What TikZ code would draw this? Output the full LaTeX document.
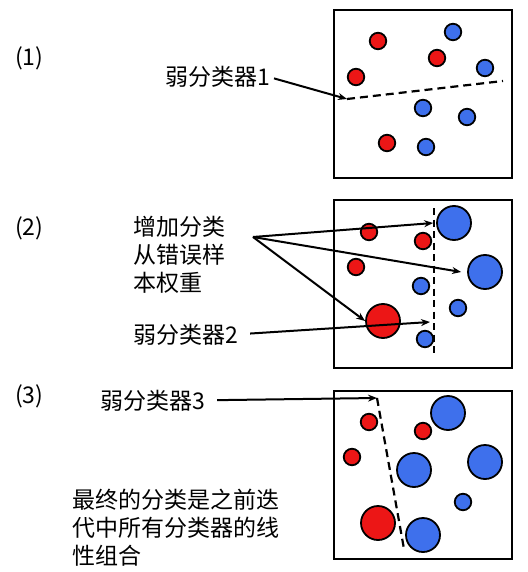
\documentclass[tikz,border=0pt]{standalone}
\usepackage{fontspec}
\setmainfont{Noto Sans CJK SC}
\usetikzlibrary{arrows.meta}
\definecolor{ptred}{RGB}{236,22,22}
\definecolor{ptblue}{RGB}{62,112,236}

\begin{document}
\begin{tikzpicture}[x=1pt, y=-1pt, >={Stealth[length=9pt,width=7pt]},
    txt/.style={anchor=base west, align=left, inner sep=0pt,
        font=\fontsize{23}{28}\selectfont},
    frame/.style={line width=2.4pt},
    rpt/.style={circle, draw, line width=1.8pt, fill=ptred, inner sep=0pt, minimum size=#1},
    bpt/.style={circle, draw, line width=1.8pt, fill=ptblue, inner sep=0pt, minimum size=#1},
    cut/.style={line width=2.2pt, dash pattern=on 8pt off 5pt},
    pointer/.style={->, line width=2pt, shorten <=12pt}]
    \useasboundingbox (0,0) rectangle (527,572);

    % (1)
    \node[txt] (n1) at (15,66) {(1)};
    \draw[frame] (334,10) rectangle (512,178);
    \node[rpt=16.5] (r11) at (378,41) {};
    \node[bpt=16.5] (b11) at (453,32) {};
    \node[rpt=16.5] (r12) at (437,58) {};
    \node[bpt=16.5] (b12) at (485,68) {};
    \node[rpt=16.5] (r13) at (356,77) {};
    \node[bpt=16.5] (b13) at (423,108) {};
    \node[bpt=16.5] (b14) at (467,117) {};
    \node[rpt=16.5] (r14) at (387,143) {};
    \node[bpt=16.5] (b15) at (426,147) {};
    \coordinate (tip1) at (347,99);
    \draw[cut] (tip1) -- (503,81);
    \node[txt] (weak1) at (165,86) {弱分类器1};
    \draw[pointer, shorten <=4pt] (weak1.east) -- (tip1);

    % (2)
    \node[txt] (n2) at (15,235) {(2)};
    \draw[frame] (334,200) rectangle (512,368);
    \node[rpt=16.5] (r21) at (369,232) {};
    \node[bpt=34] (b21) at (454,223) {};
    \node[rpt=16.5] (r22) at (423,241) {};
    \node[rpt=16.5] (r23) at (356,267) {};
    \node[bpt=34] (b22) at (485,272) {};
    \node[bpt=16.5] (b23) at (421,286) {};
    \node[bpt=16.5] (b24) at (458,308) {};
    \node[rpt=34] (r24) at (383,321) {};
    \node[bpt=16.5] (b25) at (425,339) {};
    \draw[cut, dash pattern=on 7pt off 4.5pt] (434,208) -- (434,353);
    % base of a multi-line node is its last line
    \node[txt] (boost) at (133,291) {增加分类\\从错误样\\本权重};
    \coordinate (fan) at (253,237);
    \draw[pointer, shorten <=0pt] (fan) -- ([xshift=-3pt]b21.west);
    \draw[pointer, shorten <=0pt] (fan) -- ([xshift=-6pt]b22.west);
    \draw[pointer, shorten <=0pt] (fan) -- (r24.west);
    \node[txt] (weak2) at (133,343) {弱分类器2};
    \coordinate (tip2) at (430,322);
    \draw[pointer] (weak2.east) -- (tip2);

    % (3)
    \node[txt] (n3) at (15,403) {(3)};
    \draw[frame] (334,391) rectangle (512,559);
    \node[rpt=16.5] (r31) at (369,422) {};
    \node[bpt=34] (b31) at (448,413) {};
    \node[rpt=16.5] (r32) at (423,431) {};
    \node[rpt=16.5] (r33) at (352,457) {};
    \node[bpt=34] (b32) at (414,470) {};
    \node[bpt=34] (b33) at (485,462) {};
    \node[bpt=16.5] (b34) at (463,502) {};
    \node[rpt=34] (r34) at (378,523) {};
    \node[bpt=34] (b35) at (423,535) {};
    \coordinate (tip3) at (377,398);
    \draw[cut] (tip3) -- (404,549);
    \node[txt] (weak3) at (100,409) {弱分类器3};
    \draw[pointer] (weak3.east) -- (tip3);

    \node[txt] (final) at (72,564) {最终的分类是之前迭\\代中所有分类器的线\\性组合};
\end{tikzpicture}
\end{document}
